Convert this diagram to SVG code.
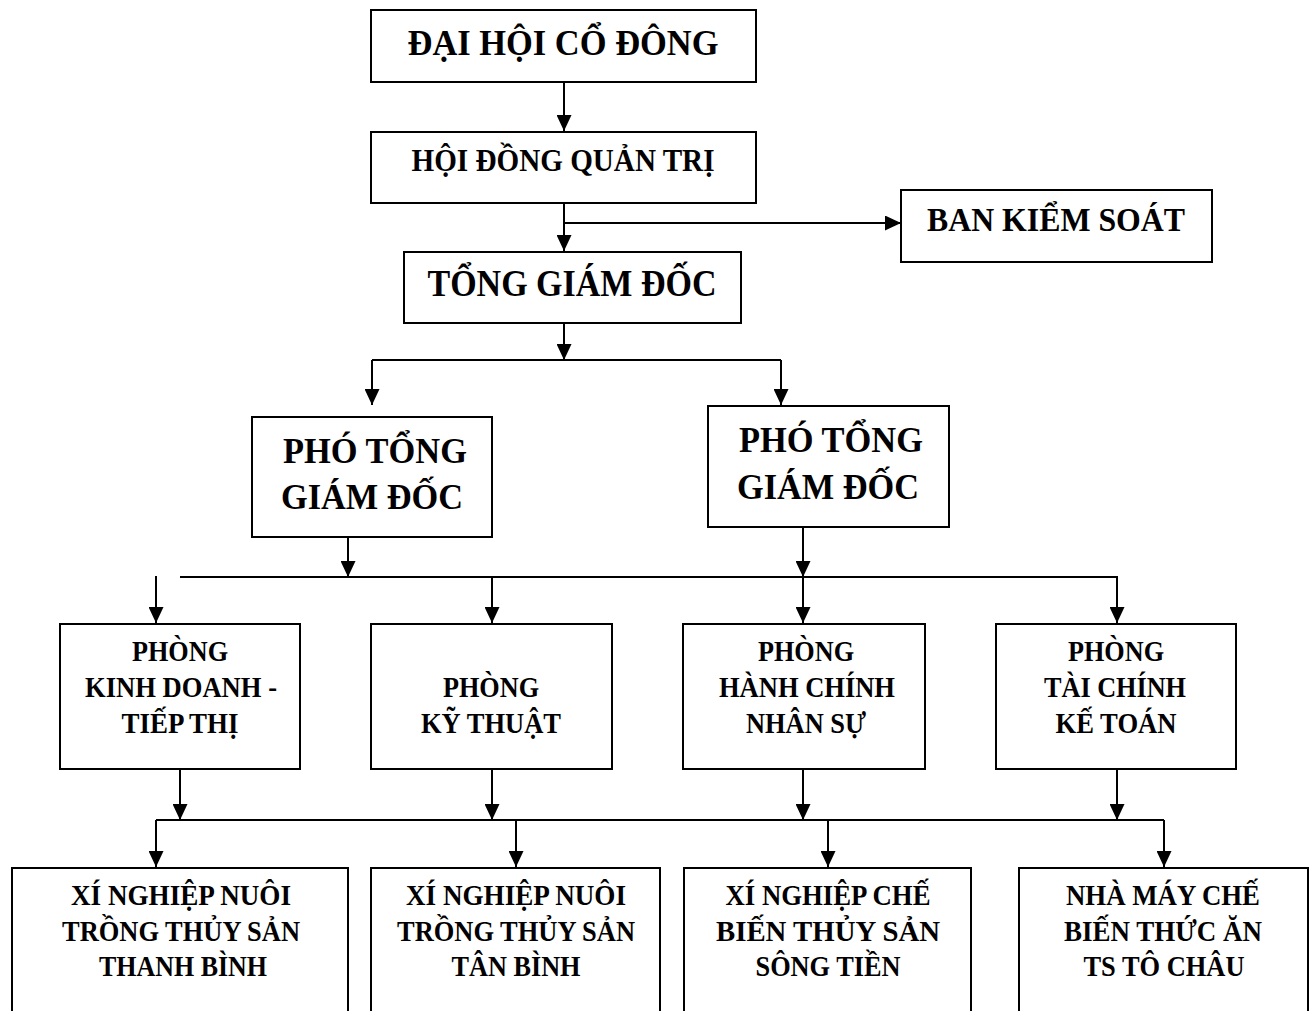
<svg xmlns="http://www.w3.org/2000/svg" width="1311" height="1011" viewBox="0 0 1311 1011">
<defs>
<marker id="ah" viewBox="0 0 16 15" refX="16" refY="7.5" markerWidth="16" markerHeight="15" markerUnits="userSpaceOnUse" orient="auto">
<path d="M0,0 L16,7.5 L0,15 Z" fill="#000"/>
</marker>
<style>
rect{fill:#fff;stroke:#000;stroke-width:2}
text{font-family:"Liberation Serif","Times New Roman",serif;font-weight:bold;fill:#000;text-anchor:middle}
.c path{fill:none;stroke:#000;stroke-width:2}
.a{marker-end:url(#ah)}
.s{font-size:30px}
</style>
</defs>
<rect x="0" y="0" width="1311" height="1011" style="stroke:none"/>
<g class="c" id="connectors">
<path class="a" d="M564,82 V131"/>
<path class="a" d="M564,203 V251"/>
<path class="a" d="M564,223 H901"/>
<path class="a" d="M564,323 V360"/>
<path d="M372,360 H781"/>
<path class="a" d="M372,360 V405"/>
<path class="a" d="M781,360 V405"/>
<path class="a" d="M348,537 V577"/>
<path class="a" d="M803,527 V577"/>
<path d="M180,577 H1118"/>
<path class="a" d="M156,576 V623"/>
<path class="a" d="M492,577 V623"/>
<path class="a" d="M803,577 V623"/>
<path class="a" d="M1117,577 V623"/>
<path class="a" d="M180,769 V820"/>
<path class="a" d="M492,769 V820"/>
<path class="a" d="M803,769 V820"/>
<path class="a" d="M1117,769 V820"/>
<path d="M156,820 H1164"/>
<path class="a" d="M156,820 V867"/>
<path class="a" d="M516,820 V867"/>
<path class="a" d="M828,820 V867"/>
<path class="a" d="M1164,820 V867"/>
</g>
<g id="dai-hoi"><rect x="371" y="10" width="385" height="72"/><text x="563" y="55" style="font-size:36px" textLength="311" lengthAdjust="spacingAndGlyphs">ĐẠI HỘI CỔ ĐÔNG</text></g>
<g id="hdqt"><rect x="371" y="132" width="385" height="71"/><text x="563" y="171" style="font-size:31px" textLength="303" lengthAdjust="spacingAndGlyphs">HỘI ĐỒNG QUẢN TRỊ</text></g>
<g id="ban-kiem-soat"><rect x="901" y="190" width="311" height="72"/><text x="1056" y="231" style="font-size:33px" textLength="258" lengthAdjust="spacingAndGlyphs">BAN KIỂM SOÁT</text></g>
<g id="tong-giam-doc"><rect x="404" y="252" width="337" height="71"/><text x="572" y="296" style="font-size:37px" textLength="289" lengthAdjust="spacingAndGlyphs">TỔNG GIÁM ĐỐC</text></g>
<g id="pho-1"><rect x="252" y="417" width="240" height="120"/><text x="375" y="463" style="font-size:35px" textLength="184" lengthAdjust="spacingAndGlyphs">PHÓ TỔNG</text><text x="372" y="509" style="font-size:35px" textLength="182" lengthAdjust="spacingAndGlyphs">GIÁM ĐỐC</text></g>
<g id="pho-2"><rect x="708" y="406" width="241" height="121"/><text x="831" y="452" style="font-size:35px" textLength="184" lengthAdjust="spacingAndGlyphs">PHÓ TỔNG</text><text x="828" y="499" style="font-size:35px" textLength="182" lengthAdjust="spacingAndGlyphs">GIÁM ĐỐC</text></g>
<g id="phong-kd" class="s"><rect x="60" y="624" width="240" height="145"/><text x="180" y="661" textLength="96" lengthAdjust="spacingAndGlyphs">PHÒNG</text><text x="181" y="697" textLength="192" lengthAdjust="spacingAndGlyphs">KINH DOANH -</text><text x="180" y="733" textLength="117" lengthAdjust="spacingAndGlyphs">TIẾP THỊ</text></g>
<g id="phong-kt" class="s"><rect x="371" y="624" width="241" height="145"/><text x="491" y="697" textLength="96" lengthAdjust="spacingAndGlyphs">PHÒNG</text><text x="491" y="733" textLength="140" lengthAdjust="spacingAndGlyphs">KỸ THUẬT</text></g>
<g id="phong-hc" class="s"><rect x="683" y="624" width="242" height="145"/><text x="806" y="661" textLength="96" lengthAdjust="spacingAndGlyphs">PHÒNG</text><text x="807" y="697" textLength="176" lengthAdjust="spacingAndGlyphs">HÀNH CHÍNH</text><text x="806" y="733" textLength="120" lengthAdjust="spacingAndGlyphs">NHÂN SỰ</text></g>
<g id="phong-tc" class="s"><rect x="996" y="624" width="240" height="145"/><text x="1116" y="661" textLength="96" lengthAdjust="spacingAndGlyphs">PHÒNG</text><text x="1115" y="697" textLength="142" lengthAdjust="spacingAndGlyphs">TÀI CHÍNH</text><text x="1116" y="733" textLength="121" lengthAdjust="spacingAndGlyphs">KẾ TOÁN</text></g>
<g id="xn-thanh-binh" class="s"><rect x="12" y="868" width="336" height="170"/><text x="181" y="905" textLength="220" lengthAdjust="spacingAndGlyphs">XÍ NGHIỆP NUÔI</text><text x="181" y="941" textLength="238" lengthAdjust="spacingAndGlyphs">TRỒNG THỦY SẢN</text><text x="183" y="976" textLength="168" lengthAdjust="spacingAndGlyphs">THANH BÌNH</text></g>
<g id="xn-tan-binh" class="s"><rect x="371" y="868" width="289" height="170"/><text x="516" y="905" textLength="220" lengthAdjust="spacingAndGlyphs">XÍ NGHIỆP NUÔI</text><text x="516" y="941" textLength="238" lengthAdjust="spacingAndGlyphs">TRỒNG THỦY SẢN</text><text x="516" y="976" textLength="129" lengthAdjust="spacingAndGlyphs">TÂN BÌNH</text></g>
<g id="xn-song-tien" class="s"><rect x="684" y="868" width="287" height="170"/><text x="828" y="905" textLength="205" lengthAdjust="spacingAndGlyphs">XÍ NGHIỆP CHẾ</text><text x="828" y="941" textLength="224" lengthAdjust="spacingAndGlyphs">BIẾN THỦY SẢN</text><text x="828" y="976" textLength="145" lengthAdjust="spacingAndGlyphs">SÔNG TIỀN</text></g>
<g id="nm-to-chau" class="s"><rect x="1019" y="868" width="289" height="170"/><text x="1163" y="905" textLength="194" lengthAdjust="spacingAndGlyphs">NHÀ MÁY CHẾ</text><text x="1163" y="941" textLength="198" lengthAdjust="spacingAndGlyphs">BIẾN THỨC ĂN</text><text x="1164" y="976" textLength="161" lengthAdjust="spacingAndGlyphs">TS TÔ CHÂU</text></g>
</svg>
